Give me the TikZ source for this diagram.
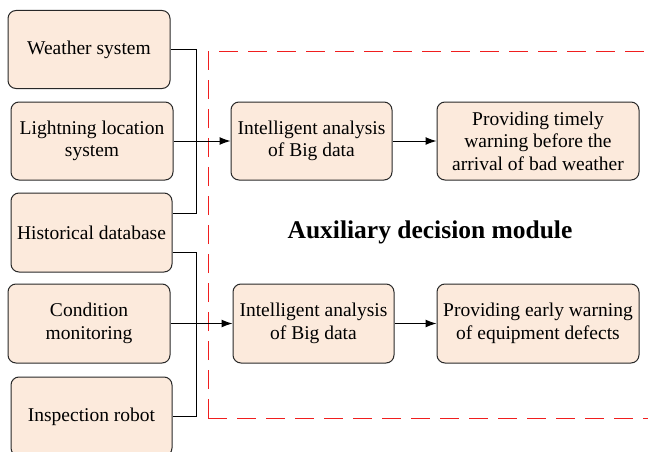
\documentclass[tikz,border=0pt]{standalone}
\usepackage{fontspec}
\setmainfont{Liberation Serif}
\newfontfamily\tmsfont{Liberation Serif}
\usetikzlibrary{arrows.meta}
\definecolor{boxfill}{RGB}{252,234,220}
\definecolor{boxline}{RGB}{40,40,40}
\definecolor{dashred}{RGB}{240,30,30}
\tikzset{
  blk/.style={draw=boxline, line width=1pt, fill=boxfill, rounded corners=8pt,
    align=center, inner sep=2pt, minimum height=78pt,
    font=\tmsfont\fontsize{19.5}{22.5}\selectfont},
  conn/.style={draw=black, line width=1pt},
  arr/.style={conn, -{Latex[length=11pt,width=8pt]}},
  module/.style={draw=dashred, line width=1pt, dash pattern=on 19pt off 10pt},
  ttl/.style={font=\tmsfont\fontsize{25.5}{30}\selectfont\bfseries}
}
\begin{document}
\begin{tikzpicture}[x=1pt,y=-1pt]
\useasboundingbox (0,0) rectangle (648,452);
\clip (0,0) rectangle (648,452);
% module frame
\draw[module] (208,418) -- (208,52) -- (660,52);
\draw[module] (208,418) -- (660,418);
\node[ttl] (title) at (430,232) {Auxiliary decision module};
% sources
\node[blk, minimum width=162pt] (W) at (89,49.5) {Weather system};
\node[blk, minimum width=162pt] (L) at (92,141) {Lightning location\\system};
\node[blk, minimum width=161pt, minimum height=79pt] (H) at (91.5,232.5) {Historical database};
\node[blk, minimum width=162pt, minimum height=79pt] (C) at (89,323.5) {Condition\\monitoring};
\node[blk, minimum width=161pt, minimum height=79pt] (I) at (91.5,416.5) {Inspection robot};
% analysis
\node[blk, minimum width=161pt] (A1) at (311.5,141) {Intelligent analysis\\of Big data};
\node[blk, minimum width=202pt] (P1) at (538,141) {Providing timely\\warning before the\\arrival of bad weather};
\node[blk, minimum width=161pt, minimum height=79pt] (A2) at (313.5,323.5) {Intelligent analysis\\of Big data};
\node[blk, minimum width=202pt, minimum height=79pt] (P2) at (538,323.5) {Providing early warning\\of equipment defects};
% buses
\coordinate (Htop) at ([yshift=19.5pt]H.east);
\coordinate (Hbot) at ([yshift=-19.5pt]H.east);
\draw[conn] (W.east) -- (196,49.5) |- (Htop);
\draw[conn] (Hbot) -- (196,252) |- (I.east);
\draw[arr] (L.east) -- (A1.west);
\draw[arr] (C.east) -- (A2.west);
\draw[arr] (A1.east) -- (P1.west);
\draw[arr] (A2.east) -- (P2.west);
\end{tikzpicture}
\end{document}
